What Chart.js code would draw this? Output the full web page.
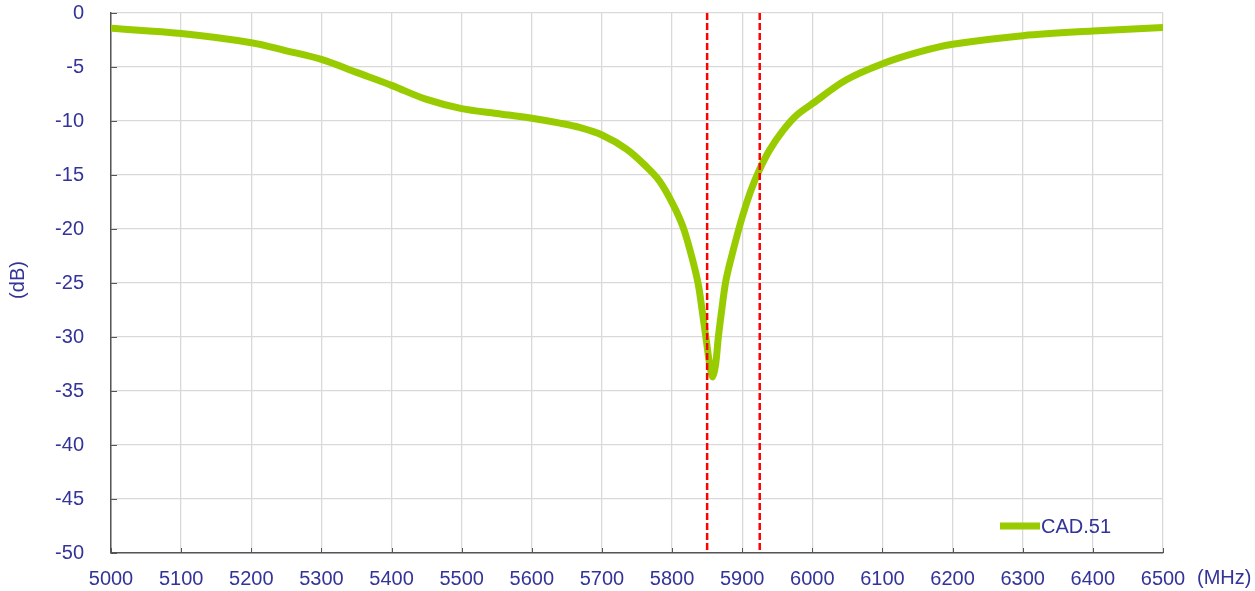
<!DOCTYPE html>
<html>
<head>
<meta charset="utf-8">
<script src="https://cdn.jsdelivr.net/npm/chart.js@4/dist/chart.umd.min.js"></script>
<style>
html,body{margin:0;padding:0;background:#fff;}
#wrap{width:1255px;height:591px;position:relative;}
</style>
</head>
<body>
<div id="wrap"><canvas id="c" width="1255" height="591"></canvas></div>
<script>
// ---- data ----
const seriesName = 'CAD.51';
const freqMHz = [5000, 5100, 5200, 5250, 5300, 5350, 5400, 5450, 5500, 5550, 5600, 5640, 5668, 5700, 5735, 5763, 5782, 5800, 5815, 5827, 5837, 5843, 5849, 5854, 5858, 5862, 5866, 5871, 5877, 5887, 5900, 5912, 5924, 5939, 5958, 5977, 6000, 6048, 6100, 6150, 6200, 6300, 6400, 6500];
const returnLossDb = [-1.42, -1.9, -2.75, -3.5, -4.3, -5.5, -6.7, -8.0, -8.85, -9.3, -9.75, -10.2, -10.6, -11.3, -12.6, -14.2, -15.55, -17.55, -19.7, -22.3, -25.0, -27.6, -30.4, -32.7, -33.7, -32.6, -30.0, -27.4, -24.7, -22.0, -18.9, -16.5, -14.6, -12.7, -10.9, -9.5, -8.4, -6.2, -4.7, -3.65, -2.9, -2.1, -1.67, -1.35];
const markerFreqs = [5850, 5925];
const yRange = [-50, 0];
const xRange = [5000, 6500];
const xTickStep = 100;
const yTickStep = 5;
const xUnit = '(MHz)';
const yUnit = '(dB)';

const labelColor = '#333399';
const fontFam = '"Liberation Sans", Arial, sans-serif';
const green = '#99cc00';

const curve = freqMHz.map((f, i) => ({x: f, y: returnLossDb[i]}));
const markerSets = markerFreqs.map(f => ({
  label: 'marker' + f,
  data: [{x: f, y: yRange[1]}, {x: f, y: yRange[0]}],
  borderColor: '#ff0000',
  borderWidth: 2.5,
  borderDash: [7, 3],
  pointRadius: 0,
  fill: false,
  tension: 0,
  order: 0,
  isMarker: true
}));

const decor = {
  id: 'decor',
  afterDraw(chart) {
    const ctx = chart.ctx;
    const xs = chart.scales.x, ys = chart.scales.y;
    const a = chart.chartArea;
    ctx.save();
    ctx.strokeStyle = '#555';
    ctx.lineWidth = 1;
    ys.ticks.forEach(t => {
      const y = Math.round(ys.getPixelForValue(t.value)) + 0.5;
      ctx.beginPath(); ctx.moveTo(a.left, y); ctx.lineTo(a.left + 6, y); ctx.stroke();
    });
    xs.ticks.forEach(t => {
      const x = Math.round(xs.getPixelForValue(t.value)) + 0.5;
      ctx.beginPath(); ctx.moveTo(x, a.bottom); ctx.lineTo(x, a.bottom - 5); ctx.stroke();
    });
    ctx.fillStyle = labelColor;
    ctx.font = '20px ' + fontFam;
    ctx.textBaseline = 'middle';
    ctx.textAlign = 'left';
    ctx.fillText(xUnit, a.right + 34, a.bottom + 25);
    ctx.save();
    ctx.translate(18, (a.top + a.bottom) / 2 - 3);
    ctx.rotate(-Math.PI / 2);
    ctx.textAlign = 'center';
    ctx.fillText(yUnit, 0, 0);
    ctx.restore();
    const ds = chart.data.datasets.find(d => !d.isMarker);
    const lx = a.right - 163, ly = a.bottom - 27;
    ctx.strokeStyle = ds.borderColor;
    ctx.lineWidth = 7;
    ctx.lineCap = 'butt';
    ctx.beginPath(); ctx.moveTo(lx, ly); ctx.lineTo(lx + 40, ly); ctx.stroke();
    ctx.fillStyle = labelColor;
    ctx.textAlign = 'left';
    ctx.fillText(ds.label, lx + 41, ly + 1);
    ctx.restore();
  }
};

new Chart(document.getElementById('c'), {
  type: 'line',
  data: {
    datasets: [
      ...markerSets,
      {
        label: seriesName,
        data: curve,
        borderColor: green,
        backgroundColor: green,
        borderWidth: 7,
        pointRadius: 0,
        tension: 0.35,
        borderJoinStyle: 'round',
        borderCapStyle: 'round',
        fill: false,
        order: 1
      }
    ]
  },
  options: {
    responsive: false,
    animation: false,
    devicePixelRatio: 1,
    layout: {padding: {left: 0, right: 92, top: 13, bottom: 0}},
    plugins: {legend: {display: false}, tooltip: {enabled: false}},
    scales: {
      x: {
        type: 'linear',
        min: xRange[0], max: xRange[1],
        ticks: {stepSize: xTickStep, color: labelColor, font: {family: fontFam, size: 20}, padding: 14, maxRotation: 0, autoSkip: false,
          callback: v => String(v)},
        grid: {color: '#d9d9d9', lineWidth: 1.3, drawTicks: false},
        border: {display: true, color: '#555', width: 1.5},
        afterFit(s) { s.height = 38; s.paddingLeft = 0; s.paddingRight = 0; }
      },
      y: {
        type: 'linear',
        min: yRange[0], max: yRange[1],
        ticks: {stepSize: yTickStep, color: labelColor, font: {family: fontFam, size: 20}, padding: 27,
          callback: v => String(v)},
        grid: {color: '#d9d9d9', lineWidth: 1.3, drawTicks: false},
        border: {display: true, color: '#555', width: 1.5},
        afterFit(s) { s.width = 111; s.paddingTop = 0; s.paddingBottom = 0; }
      }
    }
  },
  plugins: [decor]
});
</script>
</body>
</html>
